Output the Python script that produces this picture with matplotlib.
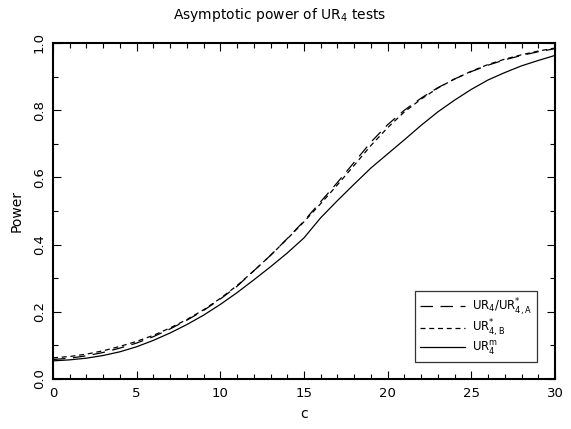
import matplotlib
matplotlib.use("Agg")
import matplotlib.pyplot as plt
from matplotlib.ticker import MultipleLocator, FormatStrFormatter

plt.rcParams['font.family'] = ['DejaVu Sans']
plt.rcParams['mathtext.fontset'] = 'dejavusans'

c = list(range(0, 31))
power_ur4 = [0.058, 0.062, 0.069, 0.079, 0.092, 0.107, 0.126, 0.149, 0.175, 0.204,
             0.238, 0.276, 0.322, 0.368, 0.418, 0.470, 0.528, 0.585, 0.645, 0.705,
             0.757, 0.800, 0.836, 0.867, 0.893, 0.915, 0.934, 0.950, 0.963, 0.974, 0.983]
power_ur4b = [0.063, 0.067, 0.074, 0.084, 0.097, 0.112, 0.130, 0.152, 0.177, 0.206,
              0.240, 0.278, 0.322, 0.368, 0.417, 0.468, 0.522, 0.578, 0.636, 0.695,
              0.748, 0.795, 0.833, 0.866, 0.893, 0.916, 0.936, 0.952, 0.965, 0.976, 0.985]
power_urm = [0.054, 0.057, 0.062, 0.070, 0.081, 0.096, 0.115, 0.137, 0.162, 0.190,
             0.222, 0.257, 0.295, 0.334, 0.375, 0.420, 0.480, 0.531, 0.580, 0.628,
             0.670, 0.712, 0.755, 0.795, 0.830, 0.862, 0.890, 0.912, 0.932, 0.948, 0.963]
labels = [r'UR$_4$/UR$^{*}_{4,\mathrm{A}}$', r'UR$^{*}_{4,\mathrm{B}}$', r'UR$^{\mathrm{m}}_{4}$']

fig = plt.figure(figsize=(5.71, 4.29), dpi=100)
ax = fig.add_axes([53/571, 1-379/429, (555-53)/571, (379-43)/429])

ax.plot(c, power_ur4, color='black', lw=0.9, dashes=(10, 6), label=labels[0])
ax.plot(c, power_ur4b, color='black', lw=0.9, dashes=(4, 3), label=labels[1])
ax.plot(c, power_urm, color='black', lw=0.9, label=labels[2])

ax.set_xlim(0, 30)
ax.set_ylim(0, 1)
ax.xaxis.set_major_locator(MultipleLocator(5))
ax.xaxis.set_minor_locator(MultipleLocator(1))
ax.yaxis.set_major_locator(MultipleLocator(0.2))
ax.yaxis.set_minor_locator(MultipleLocator(0.1))
ax.yaxis.set_major_formatter(FormatStrFormatter('%.1f'))
ax.tick_params(which='both', direction='in', top=True, right=True, labelsize=9.5)
ax.tick_params(which='major', length=6, width=0.8)
ax.tick_params(which='minor', length=3.5, width=0.8)
ax.tick_params(axis='x', pad=6)
ax.tick_params(axis='y', pad=5)
for lab in ax.get_yticklabels():
    lab.set_rotation(90)
    lab.set_va('center')
for s in ax.spines.values():
    s.set_linewidth(1.5)

fig.text(280/571, 1-15/429, r'Asymptotic power of UR$_4$ tests', fontsize=10,
         ha='center', va='center')
ax.set_xlabel('c', fontsize=10)
ax.xaxis.set_label_coords(0.5, -0.083)
ax.set_ylabel('Power', fontsize=10, labelpad=7)

leg = ax.legend(loc='lower right', bbox_to_anchor=(0.965, 0.05), frameon=True,
                fancybox=False, edgecolor='black', fontsize=8.5, handlelength=3.8,
                handletextpad=0.6, borderpad=0.45, labelspacing=0.02, borderaxespad=0)
leg.get_frame().set_linewidth(0.9)

fig.savefig('out.png', dpi=100)
